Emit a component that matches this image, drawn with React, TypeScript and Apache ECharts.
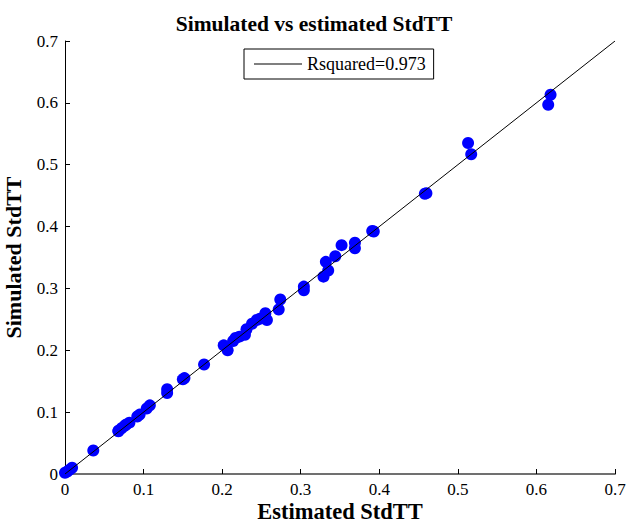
import React, { useEffect, useRef } from "react";
import * as echarts from "echarts";

const estimated: number[] = [
  0.0, 0.003, 0.006, 0.009, 0.036, 0.068, 0.068, 0.072, 0.076, 0.078, 0.082,
  0.092, 0.095, 0.104, 0.108, 0.130, 0.130, 0.150, 0.152, 0.177, 0.202,
  0.207, 0.214, 0.217, 0.222, 0.229, 0.231, 0.238, 0.244, 0.248, 0.255,
  0.257, 0.272, 0.274, 0.304, 0.304, 0.329, 0.332, 0.335, 0.344, 0.352,
  0.369, 0.369, 0.391, 0.393, 0.458, 0.460, 0.513, 0.517, 0.615, 0.618,
];
const simulated: number[] = [
  0.002, 0.004, 0.007, 0.010, 0.038, 0.070, 0.069, 0.074, 0.078, 0.080, 0.083,
  0.093, 0.096, 0.106, 0.111, 0.131, 0.137, 0.153, 0.155, 0.177, 0.208,
  0.200, 0.215, 0.220, 0.222, 0.225, 0.234, 0.243, 0.249, 0.251, 0.260,
  0.249, 0.266, 0.282, 0.297, 0.303, 0.319, 0.343, 0.329, 0.352, 0.370,
  0.365, 0.374, 0.393, 0.392, 0.453, 0.454, 0.535, 0.517, 0.597, 0.613,
];
const fitLine: number[][] = [
  [0, 0],
  [0.7, 0.7],
];
const rSquared = "0.973";

export default function App() {
  const ref = useRef<HTMLDivElement>(null);
  useEffect(() => {
    if (!ref.current) return;
    const chart = echarts.init(ref.current, undefined, { renderer: "svg" });
    const font = "'Liberation Serif', 'Times New Roman', serif";
    const fmt = (v: number) => String(Math.round(v * 10) / 10);
    chart.setOption({
      animation: false,
      backgroundColor: "#ffffff",
      title: {
        text: "Simulated vs estimated StdTT",
        left: "center",
        top: 8,
        textStyle: { fontFamily: font, fontWeight: "bold", fontSize: 21.5, color: "#000" },
      },
      legend: {
        left: 244,
        top: 49,
        data: [
          {
            name: "Rsquared=" + rSquared,
            icon: "rect",
            itemStyle: { color: "#000", borderWidth: 0 },
          },
        ],
        itemWidth: 48,
        itemHeight: 1,
        itemGap: 8,
        padding: [6, 8, 6, 10],
        borderColor: "#000",
        borderWidth: 1,
        borderRadius: 0,
        textStyle: { fontFamily: font, fontSize: 18, color: "#000" },
      },
      grid: { left: 65, right: 13, top: 41, bottom: 51, outerBoundsMode: "none", containLabel: false },
      xAxis: {
        type: "value",
        min: 0,
        max: 0.7,
        interval: 0.1,
        name: "Estimated StdTT",
        nameLocation: "middle",
        nameGap: 26,
        nameMoveOverlap: false,
        nameTextStyle: { fontFamily: font, fontWeight: "bold", fontSize: 22.5, color: "#000" },
        axisLine: { show: true, lineStyle: { color: "#707070", width: 2 } },
        axisTick: { show: true, inside: true, length: 5, lineStyle: { color: "#000" } },
        axisLabel: {
          fontFamily: font,
          fontSize: 17,
          color: "#000",
          margin: 7,
          formatter: fmt,
        },
        splitLine: { show: false },
      },
      yAxis: {
        type: "value",
        min: 0,
        max: 0.7,
        interval: 0.1,
        name: "Simulated StdTT",
        nameLocation: "middle",
        nameGap: 41,
        nameMoveOverlap: false,
        nameTextStyle: { fontFamily: font, fontWeight: "bold", fontSize: 22, color: "#000" },
        axisLine: { show: true, lineStyle: { color: "#000", width: 1 } },
        axisTick: { show: true, inside: true, length: 5, lineStyle: { color: "#000" } },
        axisLabel: {
          fontFamily: font,
          fontSize: 17,
          color: "#000",
          margin: 7,
          formatter: fmt,
        },
        splitLine: { show: false },
      },
      series: [
        {
          type: "scatter",
          name: "points",
          data: estimated.map((x, i) => [x, simulated[i]]),
          symbol: "circle",
          symbolSize: 12,
          itemStyle: { color: "#0000ff", opacity: 1 },
          z: 2,
        },
        {
          type: "line",
          name: "Rsquared=" + rSquared,
          data: fitLine,
          symbol: "none",
          lineStyle: { color: "#000", width: 1 },
          itemStyle: { color: "#000" },
          z: 3,
        },
      ],
    });
    return () => chart.dispose();
  }, []);
  return (
    <div
      ref={ref}
      style={{ position: "absolute", left: 0, top: 0, width: 628, height: 525 }}
    />
  );
}
